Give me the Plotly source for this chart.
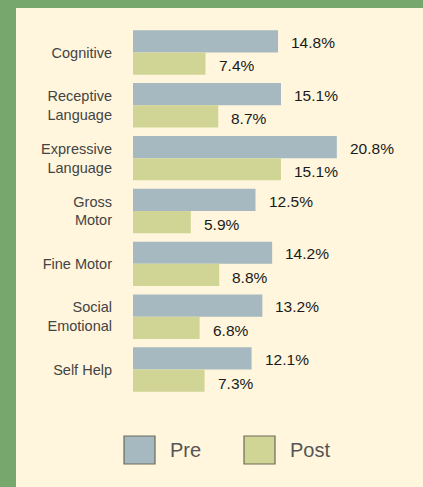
import plotly.graph_objects as go

categories = ["Cognitive", "Receptive<br>Language", "Expressive<br>Language", "Gross<br>Motor",
              "Fine Motor", "Social<br>Emotional", "Self Help"]
pre_values = [14.8, 15.1, 20.8, 12.5, 14.2, 13.2, 12.1]
post_values = [7.4, 8.7, 15.1, 5.9, 8.8, 6.8, 7.3]
series_names = ["Pre", "Post"]

PRE_COLOR = "#a6b9c0"
POST_COLOR = "#d0d595"
BG = "#fff6dd"
GREEN = "#78a76e"

W, H = 423, 487
ML, MR, MT, MB = 133, 10, 26, 91
PW, PH = W - ML - MR, H - MT - MB

def px_x(p):
    return (p - ML) / PW

def px_y(p):
    return (H - MB - p) / PH

fig = go.Figure()
fig.add_trace(go.Bar(y=categories, x=pre_values, name=series_names[0], orientation="h",
                     marker=dict(color=PRE_COLOR, line=dict(width=0)), showlegend=False,
                     hoverinfo="skip"))
fig.add_trace(go.Bar(y=categories, x=post_values, name=series_names[1], orientation="h",
                     marker=dict(color=POST_COLOR, line=dict(width=0)), showlegend=False,
                     hoverinfo="skip"))

LABEL_FONT = dict(size=15.5, color="#1a1a1a", family="Liberation Sans, Arial")
annotations = []
for c, v in zip(categories, pre_values):
    annotations.append(dict(x=v, y=c, xref="x", yref="y", text=f"{v:.1f}%", showarrow=False,
                            xanchor="left", yanchor="middle", xshift=11, yshift=10,
                            font=LABEL_FONT))
for c, v in zip(categories, post_values):
    annotations.append(dict(x=v, y=c, xref="x", yref="y", text=f"{v:.1f}%", showarrow=False,
                            xanchor="left", yanchor="middle", xshift=11, yshift=-13.5,
                            font=LABEL_FONT))

shapes = [
    dict(type="rect", xref="paper", yref="paper", x0=px_x(0), x1=px_x(16), y0=px_y(487), y1=px_y(0),
         fillcolor=GREEN, line=dict(width=0), layer="below"),
    dict(type="rect", xref="paper", yref="paper", x0=px_x(0), x1=px_x(423), y0=px_y(8), y1=px_y(0),
         fillcolor=GREEN, line=dict(width=0), layer="below"),
]

legend_items = [(series_names[0], PRE_COLOR, 124), (series_names[1], POST_COLOR, 244)]
for name, col, bx in legend_items:
    shapes.append(dict(type="rect", xref="paper", yref="paper", x0=px_x(bx), x1=px_x(bx + 31),
                       y0=px_y(464), y1=px_y(436), fillcolor=col,
                       line=dict(color="#6a6a5a", width=1.2)))
    annotations.append(dict(x=px_x(bx + 44), y=px_y(450), xref="paper", yref="paper", text=name,
                            showarrow=False, xanchor="left", yanchor="middle",
                            font=dict(size=20, color="#555555", family="Liberation Sans, Arial")))

fig.update_layout(
    width=W, height=H,
    margin=dict(l=ML, r=MR, t=MT, b=MB, pad=0),
    paper_bgcolor=BG, plot_bgcolor=BG,
    barmode="group", bargap=0.16, bargroupgap=0,
    font=dict(family="Liberation Sans, Arial", color="#444444"),
    xaxis=dict(range=[0, PW / 9.8], visible=False, showgrid=False, zeroline=False, fixedrange=True),
    yaxis=dict(autorange="reversed", showgrid=False, zeroline=False, showline=False, fixedrange=True,
               ticks="", ticklabelstandoff=20, tickfont=dict(size=14.5, color="#444444")),
    annotations=annotations, shapes=shapes, showlegend=False, hovermode=False,
)

fig.write_html("out.html", config={"displayModeBar": False},
               post_script="document.body.style.margin='0';document.body.style.overflow='hidden';")
